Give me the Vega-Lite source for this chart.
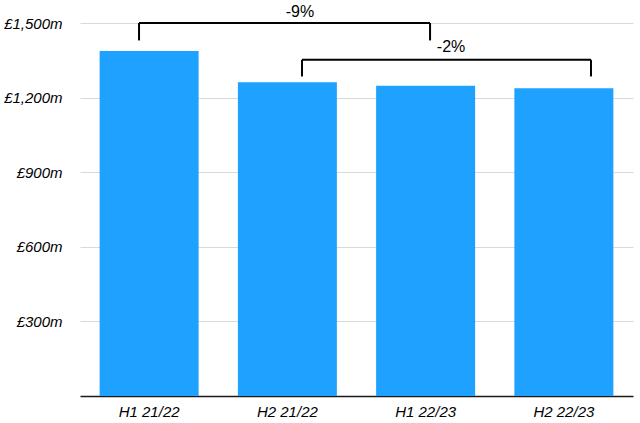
{
  "$schema": "https://vega.github.io/schema/vega-lite/v6.json",
  "width": 553,
  "height": 373,
  "autosize": {"type": "none"},
  "padding": {"left": 80, "top": 23, "right": 7, "bottom": 27},
  "background": "white",
  "config": {
    "view": {"stroke": null},
    "font": "Liberation Sans",
    "axis": {"labelFont": "Liberation Sans", "labelFontSize": 15, "labelFontStyle": "italic", "labelColor": "#000", "ticks": false, "title": null}
  },
  "datasets": {
    "revenue": [
      {"period": "H1 21/22", "value": 1387},
      {"period": "H2 21/22", "value": 1262},
      {"period": "H1 22/23", "value": 1248},
      {"period": "H2 22/23", "value": 1238}
    ],
    "brackets": [
      {"label": "-9%", "left": 0.427, "right": 2.532, "top": 1500, "bottom": 1430, "labelX": 1.591, "labelY": 1545},
      {"label": "-2%", "left": 1.606, "right": 3.696, "top": 1352, "bottom": 1285, "labelX": 2.684, "labelY": 1405}
    ]
  },
  "layer": [
    {
      "data": {"name": "revenue"},
      "mark": {"type": "bar", "color": "#1EA1FF"},
      "encoding": {
        "x": {
          "field": "period", "type": "nominal", "sort": null,
          "scale": {"paddingInner": 0.284, "paddingOuter": 0.142},
          "axis": {"labelAngle": 0, "labelPadding": 8, "domainColor": "#1a1a1a", "domainWidth": 1.5, "grid": false}
        },
        "y": {
          "field": "value", "type": "quantitative",
          "scale": {"domain": [0, 1500], "nice": false},
          "axis": {
            "values": [300, 600, 900, 1200, 1500],
            "labelExpr": "'£' + format(datum.value, ',') + 'm'",
            "labelPadding": 18, "domain": false,
            "grid": true, "gridColor": "#d9d9d9", "gridWidth": 1
          }
        }
      }
    },
    {
      "data": {"name": "brackets"},
      "mark": {"type": "rule", "color": "#000", "strokeWidth": 2},
      "encoding": {
        "x": {"field": "left", "type": "quantitative", "scale": {"domain": [0, 4], "nice": false, "zero": false}, "axis": null},
        "x2": {"field": "right"},
        "y": {"field": "top", "type": "quantitative"}
      }
    },
    {
      "data": {"name": "brackets"},
      "mark": {"type": "rule", "color": "#000", "strokeWidth": 2},
      "encoding": {
        "x": {"field": "left", "type": "quantitative", "scale": {"domain": [0, 4], "nice": false, "zero": false}, "axis": null},
        "y": {"field": "top", "type": "quantitative"},
        "y2": {"field": "bottom"}
      }
    },
    {
      "data": {"name": "brackets"},
      "mark": {"type": "rule", "color": "#000", "strokeWidth": 2},
      "encoding": {
        "x": {"field": "right", "type": "quantitative", "scale": {"domain": [0, 4], "nice": false, "zero": false}, "axis": null},
        "y": {"field": "top", "type": "quantitative"},
        "y2": {"field": "bottom"}
      }
    },
    {
      "data": {"name": "brackets"},
      "mark": {"type": "text", "fontSize": 16, "color": "#000", "baseline": "middle", "align": "center"},
      "encoding": {
        "x": {"field": "labelX", "type": "quantitative", "scale": {"domain": [0, 4], "nice": false, "zero": false}, "axis": null},
        "y": {"field": "labelY", "type": "quantitative"},
        "text": {"field": "label"}
      }
    }
  ],
  "resolve": {"scale": {"x": "independent"}}
}
